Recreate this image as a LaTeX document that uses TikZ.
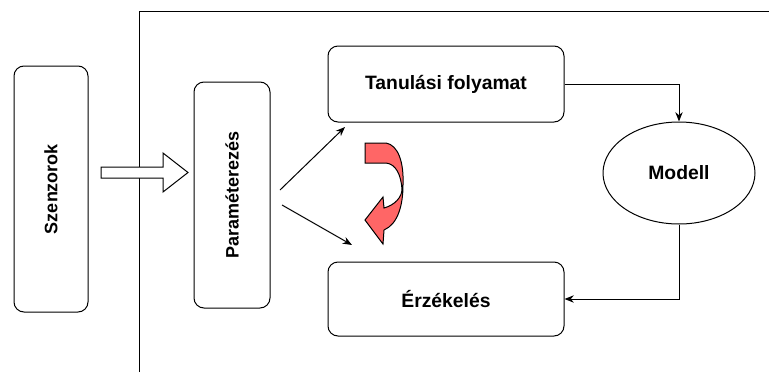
\documentclass[tikz,border=0pt]{standalone}
\usepackage{fontspec}
\setmainfont{Liberation Sans}
\usetikzlibrary{arrows.meta,shapes.geometric}
\begin{document}
\begin{tikzpicture}[x=0.75pt,y=-0.75pt,
  hfont/.style={font=\fontsize{14.5}{17}\selectfont\bfseries},
  vfont/.style={font=\fontsize{13.5}{16}\selectfont\bfseries},
  box/.style={draw,line width=0.75pt,rounded corners=7.5pt,hfont,inner sep=0pt},
  conn/.style={line width=0.75pt,-{Stealth[length=7pt,width=5.5pt]}}]
\useasboundingbox (0,0) rectangle (769,372);
% frame
\draw[line width=0.75pt] (139.5,372) -- (139.5,11.5) -- (769,11.5);
% nodes
\node[box,minimum width=55.5pt,minimum height=184.5pt] (sz) at (51,189) {};
\node[rotate=90,vfont] (szt) at (sz) {Szenzorok};
\node[box,minimum width=57pt,minimum height=169.5pt] (par) at (232,195) {};
\node[rotate=90,vfont] (part) at (par) {Paraméterezés};
\node[box,minimum width=177pt,minimum height=57pt] (tan) at (446,84) {Tanulási folyamat};
\node[box,minimum width=177pt,minimum height=55.5pt] (erz) at (446,299) {Érzékelés};
\node[draw,ellipse,line width=0.75pt,minimum width=114pt,minimum height=76.5pt,inner sep=0pt,hfont] (mod) at (679,173) {Modell};
% block arrow
\draw[line width=0.75pt,fill=white,line join=miter] (101,167) -- (163,167) -- (163,153) -- (188,172.5) -- (163,192) -- (163,178) -- (101,178) -- cycle;
% connectors
\draw[conn] (tan.east |- 0,84) -| (mod.north);
\draw[conn] (mod.south) |- (erz.east);
\coordinate (p1) at (280,190);
\coordinate (p2) at (282,205);
\coordinate (t1) at (345,127);
\coordinate (t2) at (352,245);
\draw[conn] (p1) -- (t1);
\draw[conn] (p2) -- (t2);
% red curved arrow
\draw[line width=0.75pt,fill={rgb,255:red,255;green,102;blue,102},line join=miter]
  (365,143) -- (386,143) .. controls (398,145) and (404,162) .. (403,185)
  .. controls (403,205) and (398,224) .. (384,230)
  -- (383,244) -- (365,220) -- (383,197) -- (384,208)
  .. controls (395,205) and (402,197) .. (402,189)
  .. controls (401,175) and (396,164) .. (386,163)
  -- (365,163) -- cycle;
\end{tikzpicture}
\end{document}
